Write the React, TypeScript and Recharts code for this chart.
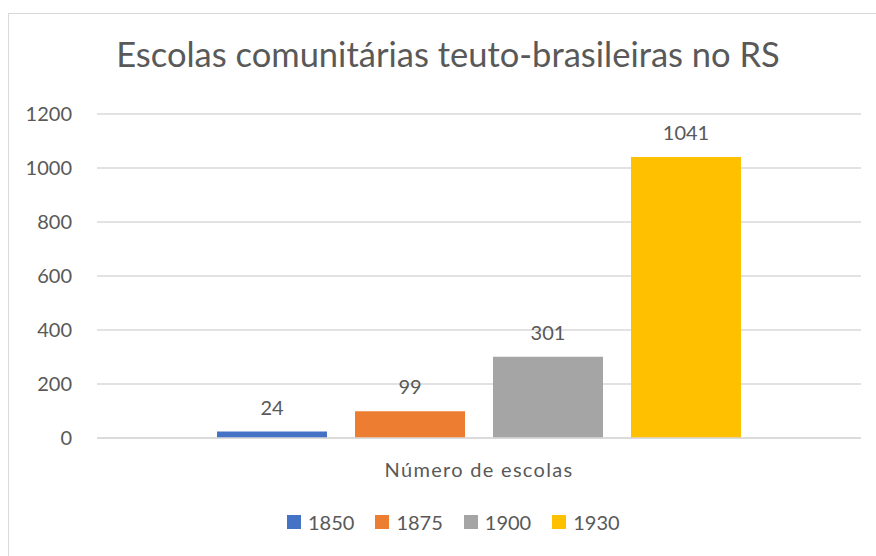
import { BarChart, Bar, XAxis, YAxis, CartesianGrid, LabelList } from 'recharts'

const categories = ['Número de escolas']
const seriesNames = ['1850', '1875', '1900', '1930']
const seriesValues = [24, 99, 301, 1041]
const COLORS = ['#4472C4', '#ED7D31', '#A5A5A5', '#FFC000']
const yTicks = [0, 200, 400, 600, 800, 1000, 1200]

const TEXT = '#595959'
const FONT = 'Lato, "Open Sans", sans-serif'

const data = categories.map((c) => {
  const row: Record<string, string | number> = { name: c }
  seriesNames.forEach((s, i) => { row[s] = seriesValues[i] })
  return row
})

function ChartLegend() {
  return (
    <div style={{ position: 'absolute', left: 287, top: 510, display: 'flex', gap: 21, fontFamily: FONT, fontSize: 20, color: TEXT }}>
      {seriesNames.map((s, i) => (
        <div key={s} style={{ display: 'flex', alignItems: 'center', gap: 7 }}>
          <span style={{ width: 14, height: 14, background: COLORS[i], display: 'inline-block' }} />
          <span>{s}</span>
        </div>
      ))}
    </div>
  )
}

export default function App() {
  return (
    <div style={{ position: 'absolute', left: 0, top: 0, width: 876, height: 556, overflow: 'hidden', background: '#fff' }}>
      <div style={{ position: 'absolute', left: 8, top: 13, width: 1000, height: 1000, border: '1.5px solid #d9d9d9' }} />
      <div style={{ position: 'absolute', left: 0, top: 33, width: 896, textAlign: 'center', fontFamily: FONT, fontSize: 34.5, color: TEXT }}>
        Escolas comunitárias teuto-brasileiras no RS
      </div>
      <div style={{ position: 'absolute', left: 0, top: 0 }}>
        <BarChart width={876} height={556} data={data} margin={{ top: 114, right: 15, bottom: 88, left: 37 }}
          barCategoryGap={120} barGap={28}>
          <CartesianGrid vertical={false} stroke="#d9d9d9" strokeWidth={1.5} />
          <XAxis dataKey="name" height={30} axisLine={{ stroke: '#d9d9d9', strokeWidth: 1.5 }} tickLine={false} tickSize={0} tickMargin={25}
            tick={{ fill: TEXT, fontSize: 20, fontFamily: FONT, letterSpacing: 1.3 }} />
          <YAxis width={60} domain={[0, 1200]} ticks={yTicks} axisLine={false} tickLine={false} tickSize={0} tickMargin={25}
            tick={{ fill: TEXT, fontSize: 20, fontFamily: FONT }} />
          {seriesNames.map((s, i) => (
            <Bar key={s} dataKey={s} fill={COLORS[i]} isAnimationActive={false}>
              <LabelList dataKey={s} position="top" offset={17} fill={TEXT} fontSize={20} fontFamily={FONT} />
            </Bar>
          ))}
        </BarChart>
      </div>
      <ChartLegend />
    </div>
  )
}
